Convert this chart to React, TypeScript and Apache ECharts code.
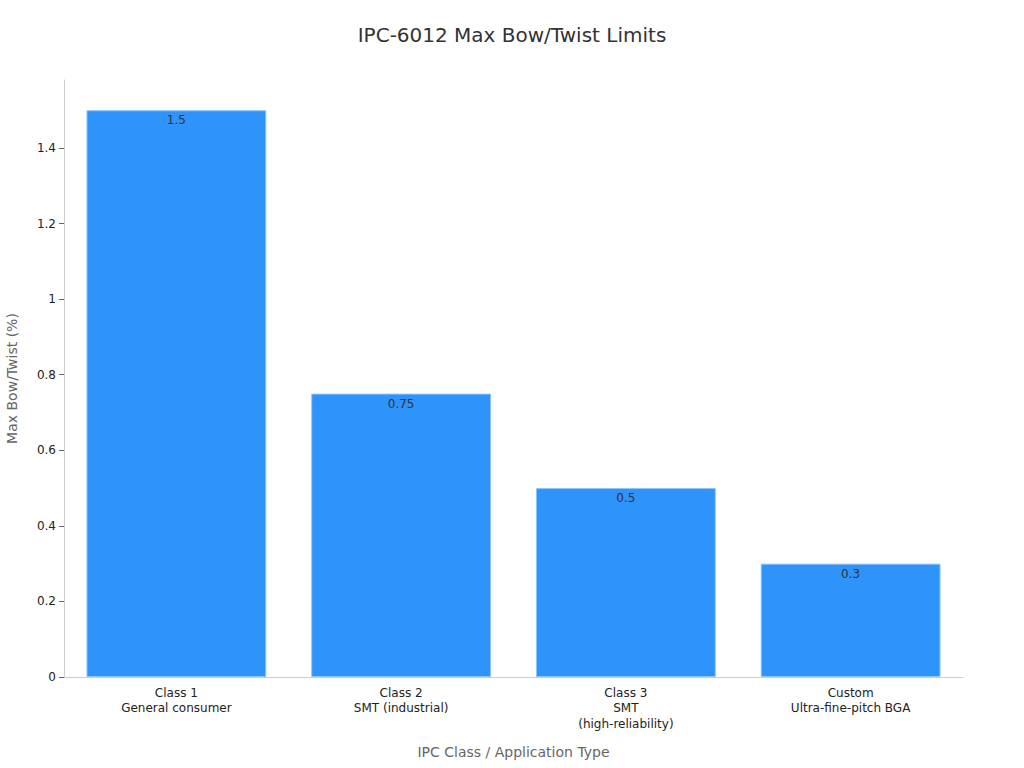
import React, { useEffect, useRef } from "react";
import * as echarts from "echarts";

const categories = [
  "Class 1\nGeneral consumer",
  "Class 2\nSMT (industrial)",
  "Class 3\nSMT\n(high-reliability)",
  "Custom\nUltra-fine-pitch BGA",
];
const values = [1.5, 0.75, 0.5, 0.3];

export default function App() {
  const ref = useRef<HTMLDivElement>(null);
  useEffect(() => {
    document.body.style.margin = "0";
    const chart = echarts.init(ref.current!, null, { renderer: "svg" });
    const font = "DejaVu Sans";
    chart.setOption({
      animation: false,
      textStyle: { fontFamily: font },
      title: {
        text: "IPC-6012 Max Bow/Twist Limits",
        left: "center",
        top: 20,
        textStyle: { fontFamily: font, fontSize: 20, fontWeight: "normal", color: "#333" },
      },
      grid: { left: 64, right: 61, top: 80, bottom: 91, containLabel: false, outerBoundsMode: "none" },
      xAxis: {
        type: "category",
        data: categories,
        name: "IPC Class / Application Type",
        nameLocation: "middle",
        nameGap: 68,
        nameTextStyle: { fontFamily: font, fontSize: 14, color: "#666" },
        axisLine: { lineStyle: { color: "#ccc" } },
        axisTick: { alignWithLabel: true, lineStyle: { color: "#666" } },
        axisLabel: { fontFamily: font, fontSize: 12, color: "#222", lineHeight: 15.5, margin: 8 },
      },
      yAxis: {
        type: "value",
        min: 0,
        max: 1.58,
        interval: 0.2,
        name: "Max Bow/Twist (%)",
        nameLocation: "middle",
        nameGap: 45,
        nameTextStyle: { fontFamily: font, fontSize: 14, color: "#666" },
        axisLine: { show: true, lineStyle: { color: "#ccc" } },
        axisTick: { show: true, lineStyle: { color: "#666" } },
        splitLine: { show: false },
        axisLabel: { fontFamily: font, fontSize: 12, color: "#222", showMaxLabel: false },
      },
      series: [
        {
          type: "bar",
          data: values,
          barWidth: "80%",
          itemStyle: { color: "#2E93FA", borderColor: "#8cc4fc", borderWidth: 1 },
          label: {
            show: true,
            position: "insideTop",
            fontFamily: font,
            fontSize: 12,
            color: "#333",
            distance: 4,
          },
        },
      ],
    });
    return () => chart.dispose();
  }, []);
  return <div ref={ref} style={{ width: 1024, height: 768 }} />;
}
